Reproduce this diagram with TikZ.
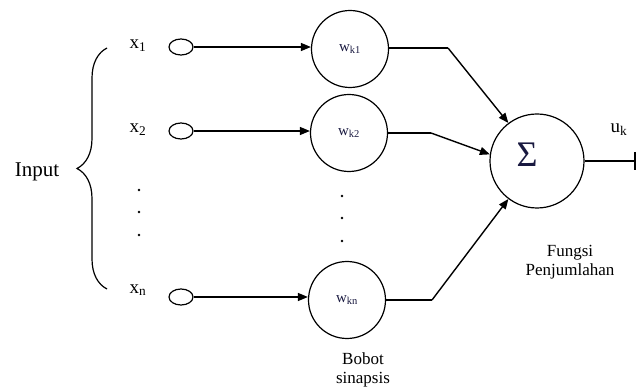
\documentclass[tikz,border=0pt]{standalone}
\usepackage{fontspec}
\setmainfont{Liberation Serif}
\usetikzlibrary{arrows.meta,decorations.pathreplacing,calc,shapes.geometric}
\definecolor{wink}{rgb}{0.1,0.1,0.25}
\begin{document}
\begin{tikzpicture}[x=1pt,y=-1pt,
  every node/.style={inner sep=0pt},
  inport/.style={draw, line width=1.2pt, ellipse, minimum width=24pt, minimum height=16pt},
  weight/.style={draw, line width=1.2pt, circle, minimum size=77pt,
    font=\fontsize{15}{17}\selectfont, text=wink},
  summer/.style={draw, line width=1.2pt, circle, minimum size=94pt},
  wire/.style={line width=1.4pt, -{Triangle[length=10pt,width=8pt]}},
  plain/.style={line width=1.4pt},
  lbl/.style={font=\fontsize{19}{21}\selectfont},
  small/.style={font=\fontsize{17}{19}\selectfont, align=center},
  dot/.style={circle, fill=black, minimum size=2.6pt}
]
\useasboundingbox (0,0) rectangle (643,387);

% input labels
\node[lbl, font=\fontsize{21}{23}\selectfont] (inp) at (37,172) {Input};
\node[lbl] (x1) at (138,46) {x$_{\mathrm{1}}$};
\node[lbl] (x2) at (138,130) {x$_{\mathrm{2}}$};
\node[lbl] (xn) at (138,290) {x$_{\mathrm{n}}$};
\node[dot] (d1) at (139,190) {};
\node[dot] (d2) at (139,212) {};
\node[dot] (d3) at (139,235) {};

% curly brace around the inputs
\draw[line width=1.2pt, decorate, decoration={brace, amplitude=30pt, aspect=0.5}]
  (107,289) -- (107,48);

% input ports
\node[inport] (p1) at (181,47) {};
\node[inport] (p2) at (181,131) {};
\node[inport] (pn) at (181,297) {};

% synaptic weights
\node[weight] (w1) at (350,49) {w$_{\mathrm{k1}}$};
\node[weight] (w2) at (349,133) {w$_{\mathrm{k2}}$};
\node[weight] (wn) at (347,300) {w$_{\mathrm{kn}}$};
\node[dot] (e1) at (342,196) {};
\node[dot] (e2) at (342,218) {};
\node[dot] (e3) at (342,241) {};

% summing junction
\node[summer] (sum) at (537,161) {};
\node[font=\fontsize{36}{38}\selectfont, text=wink] (sig) at (527,155) {Σ};

\draw[wire] (p1.east) -- (p1.east -| w1.west);
\draw[wire] (p2.east) -- (p2.east -| w2.west);
\draw[wire] (pn.east) -- (pn.east -| wn.west);

\coordinate (b1) at (448,48);
\coordinate (b2) at (431,133);
\coordinate (bn) at (432,300);
\draw[plain] (w1.east |- b1) -- (b1);
\draw[wire] (b1) -- (sum.127);
\draw[plain] (w2.east |- b2) -- (b2);
\draw[wire] (b2) -- (sum.172);
\draw[plain] (wn.east |- bn) -- (bn);
\draw[wire] (bn) -- (sum.233);

% output
\coordinate (out) at (635,161);
\draw[line width=1.2pt] (sum.east) -- (out);
\draw[line width=1.2pt] ($(out)+(0,-9)$) -- ($(out)+(0,9)$);
\node[lbl] (uk) at (619,130) {u$_{\mathrm{k}}$};

\node[small] (fp) at (570,262) {Fungsi\\Penjumlahan};
\node[small, anchor=north] (bs) at (363,353) {Bobot\\sinapsis};
\end{tikzpicture}
\end{document}
